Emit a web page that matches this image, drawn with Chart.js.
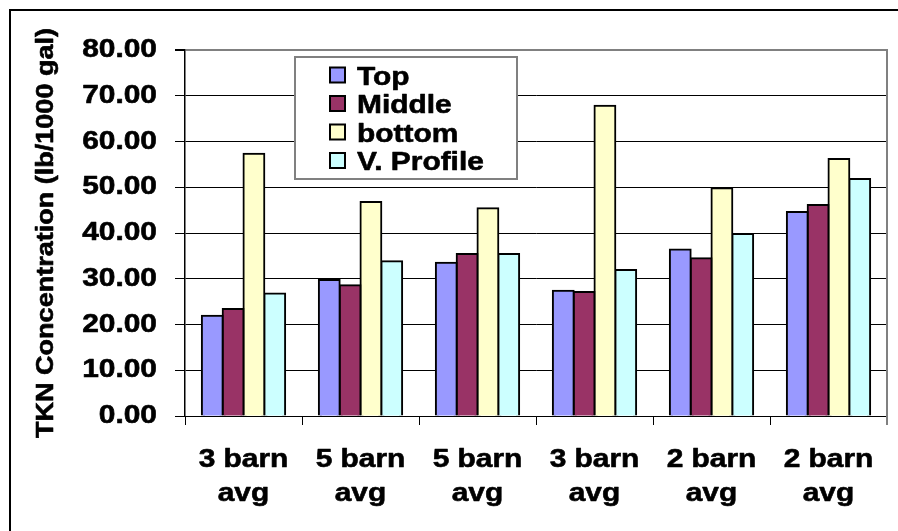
<!DOCTYPE html>
<html>
<head>
<meta charset="utf-8">
<script src="https://cdn.jsdelivr.net/npm/chart.js@4.4.1/dist/chart.umd.min.js"></script>
<style>
  html, body { margin: 0; padding: 0; background: #fff; overflow: hidden; }
  canvas { display: block; }
</style>
</head>
<body>
<canvas id="c" width="898" height="531"></canvas>
<script>
// Categories (two-line tick labels)
const categories = [
  ['3 barn', 'avg'], ['5 barn', 'avg'], ['5 barn', 'avg'],
  ['3 barn', 'avg'], ['2 barn', 'avg'], ['2 barn', 'avg']
];

// TKN concentration, lb/1000 gal, by sampling position
const topValues     = [21.9, 29.7, 33.5, 27.4, 36.4, 44.6];
const middleValues  = [23.4, 28.6, 35.4, 27.1, 34.5, 46.1];
const bottomValues  = [57.3, 46.8, 45.4, 67.8, 49.8, 56.2];
const profileValues = [26.8, 33.8, 35.4, 31.9, 39.8, 51.8];

const seriesNames  = ['Top', 'Middle', 'bottom', 'V. Profile'];
const seriesColors = ['#9999FF', '#993366', '#FFFFCC', '#CCFFFF'];

// Value axis range and step
const yMin = 0, yMax = 80, yStep = 10;

const FONT = '"Liberation Sans", Arial, Helvetica, sans-serif';
const TEXT_WIDEN = 1.15;
const TEXT_EMBOLDEN = 0.6;

// Horizontally widened, heavy lettering: every text run is scaled about its
// anchor point, so left/center/right alignment is kept and measurements agree.
const wideText = {
  id: 'wideText',
  beforeInit(chart) {
    const ctx = chart.ctx;
    const proto = CanvasRenderingContext2D.prototype;
    const k = TEXT_WIDEN;
    ctx.fillText = function (text, x, y, maxWidth) {
      this.save();
      this.translate(x, y);
      this.scale(k, 1);
      const hasMax = maxWidth !== undefined && maxWidth !== null;
      if (hasMax) {
        proto.fillText.call(this, text, 0, 0, maxWidth / k);
      } else {
        proto.fillText.call(this, text, 0, 0);
      }
      this.strokeStyle = this.fillStyle;
      this.lineWidth = TEXT_EMBOLDEN;
      this.lineJoin = 'round';
      if (hasMax) {
        proto.strokeText.call(this, text, 0, 0, maxWidth / k);
      } else {
        proto.strokeText.call(this, text, 0, 0);
      }
      this.restore();
    };
    ctx.measureText = function (text) {
      const m = proto.measureText.call(this, text);
      return {
        width: m.width * k,
        actualBoundingBoxLeft: m.actualBoundingBoxLeft * k,
        actualBoundingBoxRight: m.actualBoundingBoxRight * k,
        actualBoundingBoxAscent: m.actualBoundingBoxAscent,
        actualBoundingBoxDescent: m.actualBoundingBoxDescent,
        fontBoundingBoxAscent: m.fontBoundingBoxAscent,
        fontBoundingBoxDescent: m.fontBoundingBoxDescent
      };
    };
  }
};

// Outer frame (left and top edges) of the chart object
const frame = {
  id: 'frame',
  beforeDraw(chart) {
    const ctx = chart.ctx;
    ctx.save();
    ctx.fillStyle = '#000';
    ctx.fillRect(9, 9, 2, chart.height);
    ctx.fillRect(9, 9, chart.width, 2);
    ctx.restore();
  }
};

// Grey right edge of the plot area
const plotEdge = {
  id: 'plotEdge',
  afterDatasetsDraw(chart) {
    const { ctx, chartArea } = chart;
    ctx.save();
    ctx.fillStyle = '#808080';
    ctx.fillRect(chartArea.right - 1, chartArea.top - 1, 2, chartArea.bottom - chartArea.top + 10);
    ctx.restore();
  }
};

// Boxed legend inside the plot area
const boxLegend = {
  id: 'boxLegend',
  afterDatasetsDraw(chart) {
    const ctx = chart.ctx;
    const box = { x: 295, y: 57, w: 222, h: 122 };
    ctx.save();
    ctx.fillStyle = '#fff';
    ctx.fillRect(box.x, box.y, box.w, box.h);
    ctx.strokeStyle = '#808080';
    ctx.lineWidth = 2;
    ctx.strokeRect(box.x, box.y, box.w, box.h);
    ctx.font = 'bold 26px ' + FONT;
    ctx.textAlign = 'left';
    ctx.textBaseline = 'alphabetic';
    chart.data.datasets.forEach((ds, i) => {
      const cy = 75 + i * 28.5;
      ctx.fillStyle = ds.backgroundColor;
      ctx.fillRect(330, cy - 7.5, 15, 15);
      ctx.strokeStyle = '#000';
      ctx.lineWidth = 2;
      ctx.strokeRect(330, cy - 7.5, 15, 15);
      ctx.fillStyle = '#000';
      ctx.fillText(ds.label, 357, cy + 9.5);
    });
    ctx.restore();
  }
};

const seriesValues = [topValues, middleValues, bottomValues, profileValues];

new Chart(document.getElementById('c'), {
  type: 'bar',
  data: {
    labels: categories,
    datasets: seriesValues.map((vals, i) => ({
      label: seriesNames[i],
      data: vals,
      backgroundColor: seriesColors[i],
      borderColor: '#000',
      borderWidth: 2,
      inflateAmount: 1,
      categoryPercentage: 0.712,
      barPercentage: 1
    }))
  },
  options: {
    responsive: false,
    devicePixelRatio: 1,
    animation: false,
    layout: { padding: { top: 50, right: 11, left: 0, bottom: 0 } },
    plugins: { legend: { display: false }, tooltip: { enabled: false } },
    scales: {
      x: {
        grid: {
          offset: true,
          drawOnChartArea: false,
          tickLength: 9,
          color: '#000',
          tickColor: '#000'
        },
        border: { color: '#000', width: 1 },
        ticks: {
          color: '#000',
          font: { family: FONT, size: 26, weight: 'bold', lineHeight: 1.34 },
          padding: 17,
          maxRotation: 0,
          autoSkip: false
        },
        afterFit(s) { s.height = 115; }
      },
      y: {
        min: yMin,
        max: yMax,
        ticks: {
          stepSize: yStep,
          color: '#000',
          font: { family: FONT, size: 26, weight: 'bold' },
          padding: 18,
          callback: v => Number(v).toFixed(2)
        },
        grid: {
          color: c => (c.tick && c.tick.value === yMax ? '#808080' : '#000'),
          lineWidth: c => (c.tick && c.tick.value === yMax ? 2 : 1),
          tickColor: '#000',
          tickLength: 10
        },
        border: { color: '#000', width: 1.5 },
        title: {
          display: true,
          text: 'TKN Concentration (lb/1000 gal)',
          color: '#000',
          font: { family: FONT, size: 23.5, weight: 'bold' },
          padding: { top: 32, bottom: 0 }
        },
        afterFit(s) { s.width = 185; }
      }
    }
  },
  plugins: [wideText, frame, plotEdge, boxLegend]
});
</script>
</body>
</html>
